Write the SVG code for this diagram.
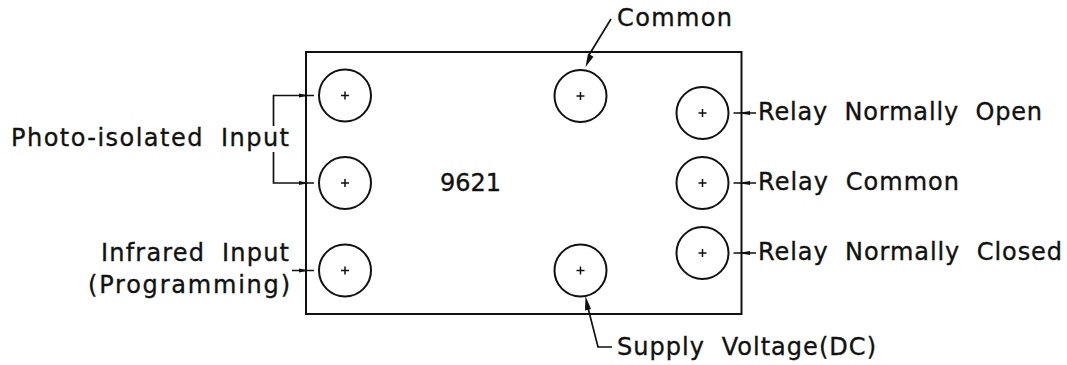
<svg xmlns="http://www.w3.org/2000/svg" width="1067" height="365" viewBox="0 0 1067 365">
<style>
.b{fill:none;stroke:#111;stroke-width:2}
.c{fill:#fff;stroke:#111;stroke-width:2}
.p{fill:none;stroke:#111;stroke-width:1.5}
.l{fill:none;stroke:#111;stroke-width:1.7}
.a{fill:#111;stroke:none}
text{font-family:"DejaVu Sans",Verdana,sans-serif;font-size:24px;fill:#111;stroke:#111;stroke-width:.35;word-spacing:8px}
</style>
<defs>
<g id="t"><circle class="c" cx="0" cy="0" r="26"/><path class="p" d="M-4 0H4M0-4V4"/></g>
</defs>
<g id="body"><rect class="b" x="306" y="52" width="435.500" height="262"/></g>
<g id="pins">
<g id="pin-l1"><use href="#t" x="345" y="95.500"/></g>
<g id="pin-l2"><use href="#t" x="345" y="183"/></g>
<g id="pin-l3"><use href="#t" x="345" y="270.500"/></g>
<g id="pin-top"><use href="#t" x="580.500" y="96"/></g>
<g id="pin-bottom"><use href="#t" x="580.500" y="270.500"/></g>
<g id="pin-r1"><use href="#t" x="702.500" y="113"/></g>
<g id="pin-r2"><use href="#t" x="702.500" y="183"/></g>
<g id="pin-r3"><use href="#t" x="702.500" y="253"/></g>
</g>
<g id="connectors">
<path class="l" d="M273.500 126V95.500H314M273.500 152V183H314M292 270.500H314"/>
<path class="a" d="M309 95.500l-10-2v4zM309 183l-10-2v4zM309 270.500l-10-2v4z"/>
<path class="l" d="M733.500 113H756M733.500 183H756M733.500 253H756"/>
<path class="a" d="M738 113l12-2v4zM738 183l12-2v4zM738 253l12-2v4z"/>
<path class="l" d="M611 19L589 55"/>
<path class="a" d="M585.500 67l2.500-13.500 5.500 3.200z"/>
<path class="l" d="M612 347H598L587 304"/>
<path class="a" d="M585.500 296l5.500 13-6 1.500z"/>
</g>
<g id="labels">
<text x="11" y="146" textLength="278" lengthAdjust="spacing">Photo-isolated Input</text>
<text x="101" y="260.500" textLength="188" lengthAdjust="spacing">Infrared Input</text>
<text x="88" y="293" textLength="202" lengthAdjust="spacing">(Programming)</text>
<text x="440" y="191" textLength="61" lengthAdjust="spacing">9621</text>
<text x="617" y="26" textLength="115" lengthAdjust="spacing">Common</text>
<text x="758" y="120" textLength="284" lengthAdjust="spacing">Relay Normally Open</text>
<text x="758" y="190" textLength="201" lengthAdjust="spacing">Relay Common</text>
<text x="758" y="260" textLength="304" lengthAdjust="spacing">Relay Normally Closed</text>
<text x="617" y="355" textLength="259" lengthAdjust="spacing">Supply Voltage(DC)</text>
</g>
</svg>
